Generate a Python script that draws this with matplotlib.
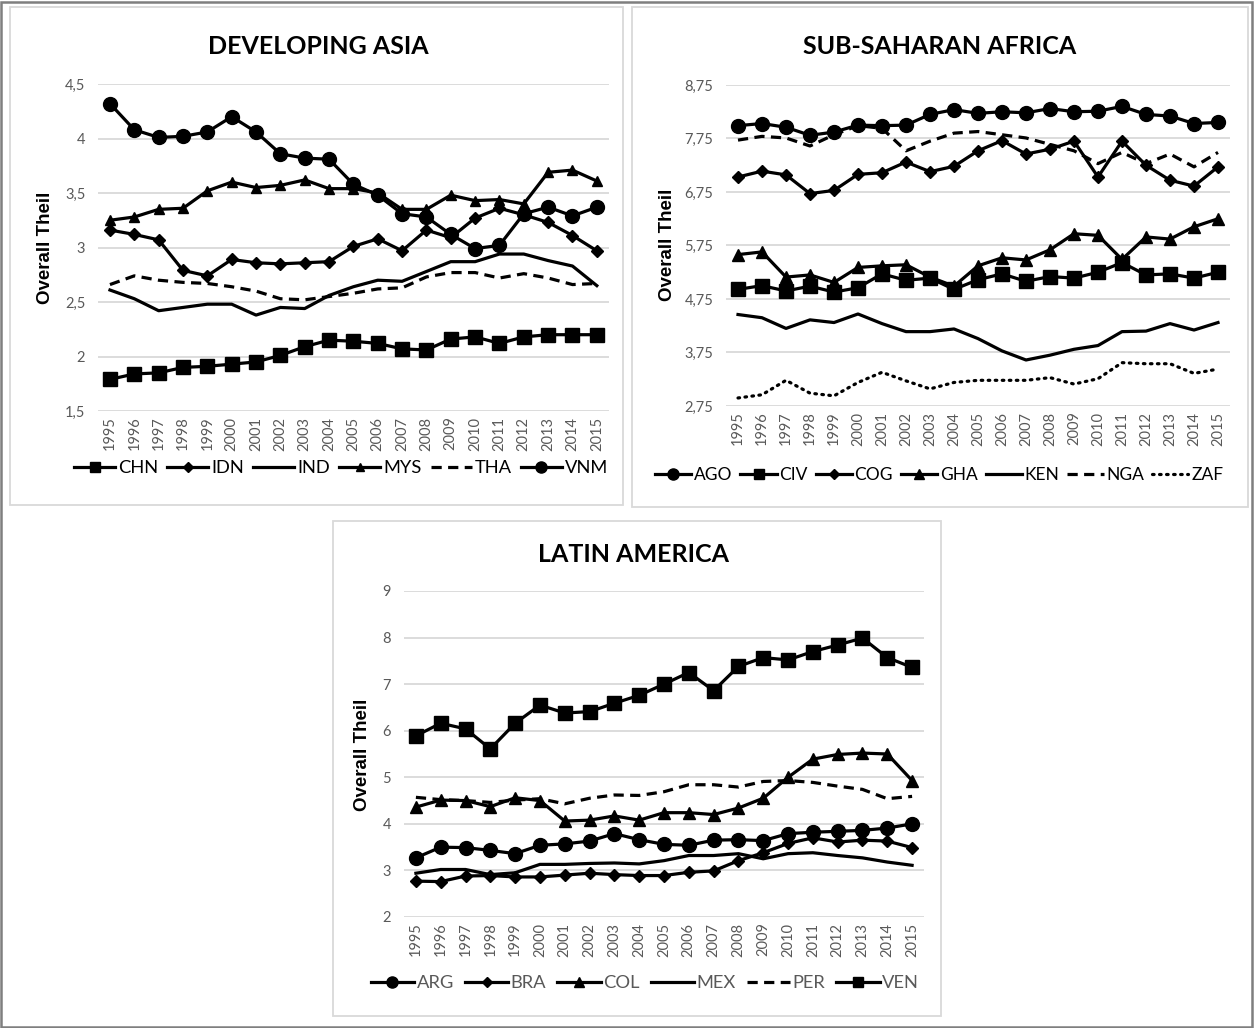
import matplotlib
matplotlib.use("Agg")
import matplotlib.pyplot as plt
from matplotlib.patches import Rectangle

years = [str(y) for y in range(1995, 2016)]

# ---------------- Developing Asia ----------------
asia_names = ["CHN", "IDN", "IND", "MYS", "THA", "VNM"]
CHN = [1.79, 1.84, 1.85, 1.90, 1.91, 1.93, 1.95, 2.01, 2.09, 2.15, 2.14, 2.12, 2.07, 2.06, 2.16, 2.18, 2.12, 2.18, 2.20, 2.20, 2.20]
IDN = [3.16, 3.12, 3.07, 2.79, 2.74, 2.89, 2.86, 2.85, 2.86, 2.87, 3.01, 3.08, 2.97, 3.16, 3.09, 3.27, 3.36, 3.30, 3.23, 3.11, 2.97]
IND = [2.61, 2.53, 2.42, 2.45, 2.48, 2.48, 2.38, 2.45, 2.44, 2.56, 2.64, 2.70, 2.69, 2.78, 2.87, 2.87, 2.94, 2.94, 2.88, 2.83, 2.65]
MYS = [3.25, 3.28, 3.35, 3.36, 3.52, 3.60, 3.55, 3.57, 3.62, 3.54, 3.54, 3.50, 3.35, 3.35, 3.48, 3.43, 3.44, 3.40, 3.69, 3.71, 3.61]
THA = [2.66, 2.74, 2.70, 2.68, 2.67, 2.64, 2.60, 2.53, 2.52, 2.55, 2.58, 2.62, 2.63, 2.73, 2.77, 2.77, 2.72, 2.76, 2.72, 2.66, 2.67]
VNM = [4.32, 4.08, 4.01, 4.02, 4.06, 4.20, 4.06, 3.86, 3.82, 3.81, 3.58, 3.48, 3.31, 3.28, 3.12, 2.99, 3.02, 3.31, 3.37, 3.29, 3.37]
asia_ticks = [1.5, 2, 2.5, 3, 3.5, 4, 4.5]
asia_ticklabels = ["1,5", "2", "2,5", "3", "3,5", "4", "4,5"]

# ---------------- Sub-Saharan Africa ----------------
africa_names = ["AGO", "CIV", "COG", "GHA", "KEN", "NGA", "ZAF"]
AGO = [7.99, 8.03, 7.96, 7.81, 7.87, 8.00, 7.99, 8.00, 8.20, 8.29, 8.22, 8.25, 8.23, 8.31, 8.25, 8.26, 8.35, 8.20, 8.17, 8.03, 8.05]
CIV = [4.93, 5.00, 4.90, 4.99, 4.88, 4.96, 5.22, 5.10, 5.14, 4.93, 5.11, 5.22, 5.08, 5.17, 5.14, 5.25, 5.43, 5.20, 5.22, 5.14, 5.25]
COG = [7.03, 7.14, 7.07, 6.72, 6.78, 7.08, 7.11, 7.31, 7.13, 7.23, 7.52, 7.71, 7.46, 7.55, 7.70, 7.03, 7.70, 7.25, 6.97, 6.86, 7.22]
GHA = [5.58, 5.63, 5.16, 5.20, 5.06, 5.34, 5.37, 5.39, 5.16, 4.99, 5.37, 5.52, 5.48, 5.67, 5.97, 5.94, 5.49, 5.91, 5.87, 6.10, 6.25]
KEN = [4.46, 4.40, 4.20, 4.36, 4.31, 4.47, 4.29, 4.14, 4.14, 4.19, 4.01, 3.78, 3.61, 3.70, 3.81, 3.88, 4.14, 4.15, 4.29, 4.17, 4.31]
NGA = [7.72, 7.79, 7.76, 7.61, 7.82, 7.99, 7.94, 7.52, 7.70, 7.85, 7.88, 7.82, 7.76, 7.64, 7.52, 7.28, 7.49, 7.28, 7.46, 7.22, 7.49]
ZAF = [2.90, 2.96, 3.23, 2.99, 2.94, 3.19, 3.38, 3.22, 3.07, 3.19, 3.23, 3.23, 3.23, 3.28, 3.16, 3.26, 3.56, 3.54, 3.54, 3.36, 3.44]
africa_ticks = [2.75, 3.75, 4.75, 5.75, 6.75, 7.75, 8.75]
africa_ticklabels = ["2,75", "3,75", "4,75", "5,75", "6,75", "7,75", "8,75"]

# ---------------- Latin America ----------------
latam_names = ["ARG", "BRA", "COL", "MEX", "PER", "VEN"]
ARG = [3.27, 3.50, 3.49, 3.43, 3.36, 3.54, 3.57, 3.63, 3.79, 3.66, 3.56, 3.54, 3.65, 3.66, 3.64, 3.79, 3.82, 3.84, 3.86, 3.91, 4.00]
BRA = [2.77, 2.76, 2.88, 2.89, 2.86, 2.86, 2.90, 2.94, 2.91, 2.89, 2.89, 2.96, 2.99, 3.21, 3.38, 3.58, 3.70, 3.61, 3.65, 3.63, 3.49]
COL = [4.36, 4.51, 4.50, 4.37, 4.56, 4.50, 4.06, 4.08, 4.17, 4.08, 4.24, 4.24, 4.20, 4.34, 4.55, 5.00, 5.39, 5.49, 5.52, 5.50, 4.93]
MEX = [2.94, 3.02, 3.02, 2.91, 2.95, 3.13, 3.13, 3.15, 3.16, 3.14, 3.21, 3.32, 3.32, 3.36, 3.25, 3.36, 3.38, 3.32, 3.27, 3.18, 3.11]
PER = [4.57, 4.52, 4.50, 4.46, 4.51, 4.54, 4.43, 4.55, 4.62, 4.61, 4.69, 4.84, 4.84, 4.79, 4.91, 4.93, 4.89, 4.81, 4.74, 4.54, 4.59]
VEN = [5.89, 6.16, 6.04, 5.61, 6.16, 6.55, 6.38, 6.41, 6.59, 6.76, 7.00, 7.25, 6.86, 7.38, 7.57, 7.52, 7.70, 7.84, 7.99, 7.57, 7.36]
latam_ticks = [2, 3, 4, 5, 6, 7, 8, 9]
latam_ticklabels = ["2", "3", "4", "5", "6", "7", "8", "9"]

# ---------------- styles ----------------
LW = 2.3
DASH = (0, (3.2, 2.0))
DOT = (0, (0.5, 1.7))
STY = {
    "CHN": dict(marker="s", ms=9.5, ls="-"),
    "IDN": dict(marker="D", ms=6.5, ls="-"),
    "IND": dict(marker=None, ls="-"),
    "MYS": dict(marker="^", ms=7.5, ls="-"),
    "THA": dict(marker=None, ls=DASH),
    "VNM": dict(marker="o", ms=10, ls="-"),
    "AGO": dict(marker="o", ms=10, ls="-"),
    "CIV": dict(marker="s", ms=9.5, ls="-"),
    "COG": dict(marker="D", ms=6.5, ls="-"),
    "GHA": dict(marker="^", ms=8.5, ls="-"),
    "KEN": dict(marker=None, ls="-"),
    "NGA": dict(marker=None, ls=DASH),
    "ZAF": dict(marker=None, ls=DOT),
    "ARG": dict(marker="o", ms=10, ls="-"),
    "BRA": dict(marker="D", ms=6.5, ls="-"),
    "COL": dict(marker="^", ms=8.5, ls="-"),
    "MEX": dict(marker=None, ls="-"),
    "PER": dict(marker=None, ls=DASH),
    "VEN": dict(marker="s", ms=9.5, ls="-"),
}

W, H = 1255, 1028
fig = plt.figure(figsize=(W / 100, H / 100), dpi=100)
fig.patch.set_facecolor("white")

NARROW = ["Lato", "DejaVu Sans"]
BOLDY = ["Liberation Sans", "DejaVu Sans"]
GRAY = "#595959"


def fx(px):
    return px / W


def fy(py):
    return 1 - py / H


# outer border
fig.add_artist(Rectangle((0.001, 0.001), 0.997, 0.997, transform=fig.transFigure,
                         fill=False, edgecolor="#7f7f7f", lw=1.8))
# panel boxes (left, top, right, bottom) in px
boxes = [(10, 7, 623, 505), (632, 7, 1248, 507), (333, 521, 941, 1016)]
for l, t, r, b in boxes:
    fig.add_artist(Rectangle((fx(l), fy(b)), fx(r) - fx(l), fy(t) - fy(b),
                             transform=fig.transFigure, fill=False,
                             edgecolor="#d9d9d9", lw=1.3))

panels = [
    dict(title="DEVELOPING ASIA", names=asia_names, data=[CHN, IDN, IND, MYS, THA, VNM],
         ticks=asia_ticks, labels=asia_ticklabels, ylim=(1.5, 4.5),
         ax=(97.8, 84, 609, 411), title_xy=(318, 47), ylab_xy=(45, 248), leg_xy=(341, 468),
         leg=dict(size=13.2, hl=2.25, cs=0.5, color="black")),
    dict(title="SUB-SAHARAN AFRICA", names=africa_names, data=[AGO, CIV, COG, GHA, KEN, NGA, ZAF],
         ticks=africa_ticks, labels=africa_ticklabels, ylim=(2.75, 8.75),
         ax=(726, 85, 1230, 406), title_xy=(940, 47), ylab_xy=(668, 245), leg_xy=(939, 475),
         leg=dict(size=12.5, hl=2.1, cs=0.45, color="black")),
    dict(title="LATIN AMERICA", names=latam_names, data=[ARG, BRA, COL, MEX, PER, VEN],
         ticks=latam_ticks, labels=latam_ticklabels, ylim=(2, 9),
         ax=(403.5, 591, 924.5, 917), title_xy=(634, 555), ylab_xy=(363, 755), leg_xy=(645, 983),
         leg=dict(size=13.2, hl=2.35, cs=0.6, color=GRAY)),
]

x = list(range(len(years)))
for p in panels:
    l, t, r, b = p["ax"]
    ax = fig.add_axes([fx(l), fy(b), fx(r) - fx(l), fy(t) - fy(b)])
    ax.set_facecolor("none")
    handles = []
    for name, vals in zip(p["names"], p["data"]):
        s = STY[name]
        kw = dict(color="black", lw=LW, linestyle=s["ls"], solid_joinstyle="round",
                  dash_capstyle="butt", clip_on=False)
        if s["marker"]:
            kw.update(marker=s["marker"], markersize=s["ms"], markerfacecolor="black",
                      markeredgecolor="black")
        if name == "ZAF":
            kw["dash_capstyle"] = "round"
        line, = ax.plot(x, vals, label=name, **kw)
        handles.append(line)
    ax.set_xlim(-0.5, len(years) - 0.5)
    ax.set_ylim(*p["ylim"])
    ax.set_yticks(p["ticks"])
    ax.set_yticklabels(p["labels"], fontsize=10.5, color=GRAY, family=NARROW)
    ax.set_xticks(x)
    ax.set_xticklabels(years, rotation=90, fontsize=10.5, color=GRAY, family=NARROW)
    ax.tick_params(axis="both", length=0)
    ax.tick_params(axis="y", pad=9)
    ax.tick_params(axis="x", pad=4)
    for sp in ax.spines.values():
        sp.set_visible(False)
    ax.grid(axis="y", color="#d9d9d9", lw=1.3)
    ax.set_axisbelow(True)
    fig.text(fx(p["title_xy"][0]), fy(p["title_xy"][1]), p["title"], ha="center", va="center",
             fontsize=18, fontweight="bold", family=NARROW, color="black")
    fig.text(fx(p["ylab_xy"][0]), fy(p["ylab_xy"][1]), "Overall Theil", rotation=90,
             ha="center", va="center", fontsize=13.5, fontweight="bold", family=BOLDY)
    lg = p["leg"]
    ax.legend(handles=handles, loc="center", bbox_to_anchor=(fx(p["leg_xy"][0]), fy(p["leg_xy"][1])),
              bbox_transform=fig.transFigure, ncol=len(handles), frameon=False,
              prop=dict(family=NARROW, size=lg["size"]), handlelength=lg["hl"], handletextpad=0.15,
              columnspacing=lg["cs"], labelcolor=lg["color"], markerscale=0.8)

fig.savefig("out.png", dpi=100, facecolor="white")
